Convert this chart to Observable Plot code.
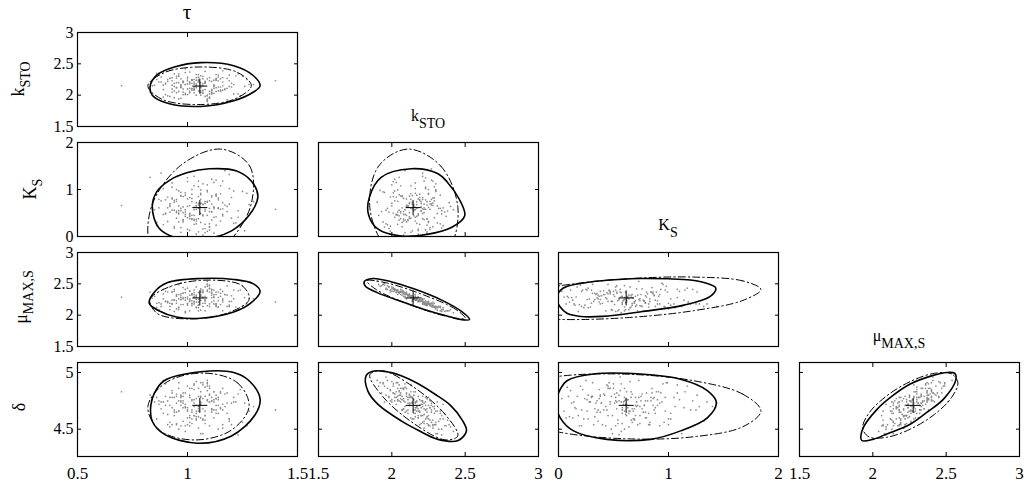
<!DOCTYPE html>
<html><head><meta charset="utf-8">
<script src="https://cdn.jsdelivr.net/npm/d3@7"></script>
<script src="https://cdn.jsdelivr.net/npm/@observablehq/plot@0.6"></script>
<style>
body{margin:0;background:#fff;}
#chart{position:relative;width:1032px;height:486px;overflow:hidden;background:#fff;}
</style></head><body><div id="chart"></div>
<script>
// ---- parameter names / labels ----
const names = ["tau","kSTO","KS","muMAX","delta"];
const labelMain = ["τ","k","K","μ","δ"];
const labelSub  = ["","STO","S","MAX,S",""];

// ---- axis domains and tick values ----
const domains = [[0.5,1.5],[1.5,3],[0,2],[1.5,3],[4.259,5.088]];
const tickValues = [[0.5,1,1.5],[1.5,2,2.5,3],[0,1,2],[1.5,2,2.5,3],[4.5,5]];

// ---- estimated parameter means (centre crosses) ----
const centre = [1.056, 2.145, 0.615, 2.275, 4.71];

// ---- Monte-Carlo samples ----
const tau = [1.06,0.98,1.13,0.95,1.02,1.10,0.89,1.16,1.04,0.99, 1.21,1.08,0.93,1.01,1.12,0.97,1.07,1.26,0.91,1.05, 1.14,0.96,1.03,1.09,0.86,1.18,1.00,1.11,0.94,1.06, 1.02,1.23,0.92,1.08,0.99,1.15,1.04,0.88,1.10,1.01, 0.97,1.13,1.06,0.84,1.19,1.03,0.95,1.09,1.00,1.28, 1.07,0.93,1.12,1.05,0.98,1.16,0.90,1.04,1.11,0.96, 1.20,1.02,0.94,1.08,1.14,0.99,1.06,0.87,1.17,1.03, 0.92,1.10,1.01,1.24,0.97,1.07,1.13,0.95,1.05,0.70, 1.09,0.98,1.15,1.02,0.90,1.11,1.04,1.19,0.96,1.06, 1.00,1.12,0.93,1.08,1.30,0.99,1.05,0.91,1.14,1.03, 1.07,0.94,1.10,1.17,0.97,1.02,0.85,1.09,1.22,1.04, 0.98,1.13,1.01,0.92,1.06,1.16,0.95,1.11,1.00,1.40, 1.08,0.89,1.03,1.15,0.96,1.07,1.20,0.93,1.05,1.12, 1.01,0.97,1.10,0.88,1.18,1.04,0.99,1.14,1.06,0.94, 1.25,1.02,0.91,1.09,1.00,1.13,0.96,1.07,0.86,1.11, 1.03,1.19,0.95,1.05,1.10,0.98,1.27,1.01,0.93,1.08, 1.15,0.90,1.04,1.12,0.97,1.06,0.83,1.16,1.02,1.09, 0.99,1.21,1.05,0.94,1.11,1.03,0.92,1.14,1.07,1.00, 1.13,0.96,1.08,1.18,0.89,1.04,1.10,0.98,1.23,1.06, 1.01,0.95,1.12,1.03,0.87,1.09,1.16,0.97,1.05,1.11];
const kSTO = [2.20,2.05,2.33,2.12,2.24,1.95,2.16,2.08,2.28,2.01, 2.17,2.22,2.10,2.37,2.03,2.15,2.26,2.14,1.99,2.21, 2.07,2.30,2.18,1.90,2.25,2.11,2.23,2.04,2.34,2.13, 2.19,2.02,2.27,2.09,2.42,2.06,2.16,2.29,1.97,2.21, 2.12,2.24,2.00,2.15,2.32,2.08,2.20,1.94,2.26,2.17, 2.05,2.28,2.14,2.22,2.10,2.39,2.01,2.18,2.07,2.31, 2.13,2.25,1.96,2.19,2.23,2.03,2.16,2.35,2.09,2.11, 2.27,2.06,2.21,1.99,2.17,2.30,2.12,2.04,2.24,2.15, 1.92,2.22,2.26,2.08,2.18,2.02,2.33,2.14,2.20,2.05, 2.29,2.11,2.23,1.98,2.17,2.36,2.07,2.25,2.13,2.21, 2.03,2.19,2.28,2.10,1.95,2.24,2.16,2.00,2.31,2.12, 2.22,2.06,2.18,2.40,2.04,2.15,2.27,2.09,2.01,2.23, 2.20,1.97,2.25,2.13,2.34,2.08,2.19,2.05,2.29,2.16, 2.11,2.26,2.02,2.21,1.93,2.24,2.17,2.32,2.07,2.14, 2.30,2.10,2.22,1.99,2.18,2.27,2.06,2.15,2.35,2.03, 2.09,2.23,2.12,2.28,1.96,2.20,2.25,2.04,2.16,2.38, 2.08,2.19,2.00,2.24,2.14,2.31,2.05,2.21,2.11,2.26, 2.17,2.02,2.33,2.07,2.22,2.13,1.98,2.29,2.18,2.10, 2.25,1.94,2.20,2.27,2.09,2.15,2.23,2.01,2.34,2.12, 2.06,2.30,2.16,2.04,2.21,1.91,2.28,2.13,2.24,2.08];
const KS = [0.62,0.35,0.88,0.51,0.74,0.20,1.02,0.47,0.66,0.93, 0.28,0.58,0.80,0.43,1.15,0.55,0.69,0.12,0.84,0.38, 0.61,0.97,0.45,0.73,0.30,0.64,1.25,0.52,0.18,0.79, 0.90,0.41,0.67,0.08,0.57,1.08,0.33,0.76,0.60,0.49, 0.86,0.24,0.71,0.63,1.32,0.37,0.54,0.95,0.15,0.68, 0.44,0.82,0.59,1.18,0.31,0.72,0.50,0.05,0.87,0.65, 0.39,1.00,0.56,0.26,0.78,0.47,0.92,0.61,1.40,0.34, 0.70,0.53,0.83,0.22,0.60,1.12,0.42,0.75,0.10,0.66, 0.98,0.36,0.58,0.81,0.48,1.22,0.27,0.69,0.55,0.89, 0.40,0.63,1.05,0.17,0.74,0.52,0.85,0.32,0.60,1.28, 0.46,0.77,0.21,0.67,0.94,0.38,0.57,1.10,0.29,0.72, 0.51,0.86,0.13,0.64,0.99,0.44,0.79,0.35,1.17,0.58, 0.70,0.25,0.62,0.91,0.48,0.03,0.83,0.56,1.06,0.41, 0.66,0.19,0.76,1.35,0.53,0.37,0.88,0.60,0.30,0.73, 0.96,0.45,0.61,0.11,0.80,1.20,0.50,0.68,0.23,0.84, 0.57,1.02,0.39,0.71,0.27,0.63,0.92,0.46,1.14,0.54, 0.33,0.78,0.65,0.07,0.87,0.49,1.26,0.59,0.36,0.75, 0.43,0.97,0.60,0.21,0.69,1.08,0.52,0.82,0.16,0.64, 0.90,0.31,0.74,1.44,0.47,0.58,0.14,0.85,0.55,0.70, 0.38,1.00,0.62,0.26,0.79,0.45,1.18,0.09,0.67,0.53];
const muMAX = [2.24,2.35,2.14,2.30,2.15,2.48,2.26,2.38,2.13,2.41, 2.26,2.19,2.37,2.07,2.40,2.25,2.19,2.28,2.37,2.25, 2.37,2.13,2.22,2.54,2.19,2.32,2.18,2.40,2.06,2.31, 2.23,2.39,2.19,2.30,2.04,2.41,2.25,2.14,2.47,2.22, 2.34,2.16,2.42,2.27,2.14,2.30,2.23,2.49,2.16,2.27, 2.36,2.18,2.23,2.21,2.35,2.07,2.38,2.29,2.32,2.12, 2.31,2.19,2.41,2.25,2.23,2.36,2.33,2.09,2.33,2.33, 2.14,2.37,2.26,2.40,2.25,2.14,2.33,2.33,2.21,2.29, 2.46,2.26,2.17,2.34,2.22,2.41,2.12,2.22,2.26,2.37, 2.19,2.30,2.18,2.45,2.26,2.06,2.36,2.22,2.28,2.18, 2.40,2.24,2.14,2.33,2.51,2.18,2.30,2.38,2.13,2.32, 2.17,2.37,2.24,2.09,2.37,2.26,2.19,2.28,2.43,2.21, 2.23,2.41,2.21,2.30,2.09,2.38,2.22,2.37,2.12,2.33, 2.32,2.17,2.42,2.18,2.47,2.21,2.24,2.13,2.40,2.25, 2.14,2.34,2.20,2.40,2.29,2.18,2.33,2.28,2.12,2.37, 2.36,2.16,2.31,2.16,2.43,2.28,2.18,2.39,2.24,2.07, 2.35,2.22,2.45,2.18,2.31,2.08,2.37,2.24,2.32,2.15, 2.28,2.40,2.07,2.38,2.21,2.28,2.45,2.13,2.29,2.26, 2.18,2.49,2.23,2.14,2.34,2.30,2.18,2.44,2.09,2.30, 2.38,2.10,2.28,2.40,2.20,2.49,2.21,2.28,2.16,2.35];
const delta = [4.72,4.75,4.64,4.81,4.55,4.88,4.64,4.86,4.58,4.82, 4.74,4.55,4.82,4.53,4.83,4.80,4.58,4.73,4.75,4.79, 4.76,4.66,4.62,4.93,4.78,4.64,4.67,4.75,4.62,4.60, 4.76,4.81,4.56,4.87,4.48,4.82,4.61,4.68,4.86,4.62, 4.71,4.77,4.74,4.76,4.57,4.85,4.55,4.90,4.69,4.66, 4.89,4.54,4.74,4.51,4.79,4.54,4.90,4.66,4.67,4.66, 4.73,4.59,4.96,4.66,4.71,4.72,4.73,4.72,4.70,4.73, 4.71,4.74,4.56,4.85,4.75,4.46,4.80,4.79,4.61,4.83, 4.91,4.57,4.69,4.75,4.79,4.75,4.59,4.59,4.75,4.83, 4.54,4.76,4.78,4.79,4.70,4.53,4.86,4.54,4.78,4.70, 4.91,4.65,4.53,4.81,4.74,4.65,4.74,4.76,4.74,4.71, 4.73,4.77,4.60,4.52,4.91,4.67,4.65,4.65,4.88,4.67, 4.62,4.93,4.62,4.83,4.50,4.77,4.54,4.84,4.70,4.67, 4.78,4.53,4.81,4.74,4.82,4.77,4.69,4.50,4.79,4.78, 4.56,4.86,4.63,4.84,4.60,4.67,4.86,4.59,4.59,4.78, 4.90,4.59,4.73,4.70,4.80,4.69,4.53,4.86,4.69,4.58, 4.68,4.71,4.92,4.60,4.78,4.46,4.80,4.72,4.67,4.75, 4.70,4.78,4.66,4.67,4.68,4.89,4.78,4.64,4.68,4.66, 4.71,4.91,4.62,4.73,4.74,4.64,4.74,4.82,4.45,4.78, 4.80,4.54,4.83,4.76,4.75,4.88,4.51,4.79,4.68,4.68];

// ---- confidence regions: solid = likelihood contour, dash = linearised ellipse ----
const solid_kSTO_tau = [[0.83,2.14],[0.84,2.0],[0.91,1.87],[1.06,1.82],[1.21,1.91],[1.30,2.05],[1.33,2.15],[1.30,2.31],[1.21,2.47],[1.06,2.52],[0.94,2.45],[0.86,2.32]];
const dash_kSTO_tau  = [[1.065,2.45],[1.228,2.362],[1.29,2.15],[1.214,1.938],[1.045,1.85],[0.882,1.938],[0.82,2.15],[0.896,2.362]];
const solid_KS_tau = [[0.84,0.62],[0.87,0.18],[0.95,-0.03],[1.08,-0.05],[1.20,0.12],[1.28,0.45],[1.32,0.85],[1.29,1.18],[1.22,1.40],[1.10,1.44],[1.0,1.36],[0.92,1.2],[0.86,0.95]];
const dash_KS_tau  = [[1.15,1.86],[1.283,1.497],[1.285,0.62],[1.155,-0.257],[0.97,-0.62],[0.837,-0.257],[0.835,0.62],[0.965,1.497]];
const solid_muMAX_tau = [[0.826,2.19],[0.87,2.07],[0.95,1.97],[1.06,1.95],[1.21,2.05],[1.29,2.20],[1.33,2.38],[1.30,2.50],[1.21,2.57],[1.06,2.585],[0.91,2.52],[0.85,2.37]];
const dash_muMAX_tau  = [[1.105,2.56],[1.249,2.469],[1.28,2.25],[1.179,2.031],[1.005,1.94],[0.861,2.031],[0.83,2.25],[0.931,2.469]];
const solid_delta_tau = [[0.833,4.706],[0.84,4.57],[0.894,4.456],[1.047,4.376],[1.20,4.44],[1.305,4.62],[1.33,4.765],[1.28,4.927],[1.21,5.0],[1.06,5.006],[0.894,4.927],[0.85,4.82]];
const dash_delta_tau  = [[1.07,4.995],[1.227,4.909],[1.28,4.70],[1.199,4.491],[1.03,4.405],[0.873,4.491],[0.82,4.70],[0.901,4.909]];
const solid_KS_kSTO = [[1.847,0.835],[1.84,0.48],[1.904,0.16],[2.064,0.01],[2.25,0.05],[2.406,0.19],[2.497,0.44],[2.452,0.835],[2.38,1.15],[2.315,1.336],[2.132,1.443],[1.927,1.26]];
const dash_KS_kSTO  = [[2.11,1.86],[2.334,1.497],[2.45,0.62],[2.39,-0.257],[2.19,-0.62],[1.966,-0.257],[1.85,0.62],[1.91,1.497]];
const solid_muMAX_kSTO = [[1.812,2.535],[1.87,2.585],[2.00,2.53],[2.15,2.42],[2.34,2.24],[2.475,2.06],[2.53,1.93],[2.47,1.93],[2.40,1.97],[2.25,2.07],[2.10,2.19],[1.90,2.36],[1.82,2.46]];
const dash_muMAX_kSTO  = [[2.50,1.95],[2.437,2.091],[2.215,2.325],[1.963,2.515],[1.83,2.55],[1.893,2.409],[2.115,2.175],[2.367,1.985]];
const solid_delta_kSTO = [[1.824,4.97],[1.836,4.838],[1.904,4.721],[2.064,4.573],[2.18,4.49],[2.315,4.41],[2.452,4.40],[2.509,4.485],[2.48,4.58],[2.40,4.71],[2.292,4.81],[2.18,4.90],[2.064,4.971],[1.95,5.01],[1.87,5.01]];
const dash_delta_kSTO  = [[2.45,4.44],[2.362,4.632],[2.15,4.87],[1.938,5.014],[1.85,4.98],[1.938,4.788],[2.15,4.55],[2.362,4.406]];
const solid_muMAX_KS = [[-0.02,2.27],[0.016,2.13],[0.077,2.03],[0.20,1.98],[0.40,1.98],[0.75,2.055],[1.14,2.16],[1.38,2.30],[1.43,2.43],[1.36,2.50],[1.2,2.56],[1.0,2.58],[0.75,2.585],[0.55,2.57],[0.29,2.53],[0.08,2.46],[0.02,2.40]];
const dash_muMAX_KS  = [[1.84,2.41],[1.677,2.546],[1.23,2.608],[0.62,2.58],[0.01,2.468],[-0.437,2.304],[-0.60,2.13],[-0.437,1.994],[0.01,1.932],[0.62,1.96],[1.23,2.072],[1.677,2.236]];
const solid_delta_KS = [[-0.02,4.73],[0.016,4.60],[0.137,4.485],[0.44,4.41],[0.836,4.41],[1.11,4.485],[1.353,4.60],[1.435,4.735],[1.353,4.84],[1.11,4.94],[0.745,4.986],[0.319,4.986],[0.077,4.927],[0.02,4.86]];
const dash_delta_KS  = [[1.84,4.66],[1.677,4.808],[1.23,4.927],[0.62,4.985],[0.01,4.967],[-0.437,4.878],[-0.60,4.74],[-0.437,4.592],[0.01,4.473],[0.62,4.415],[1.23,4.433],[1.677,4.522]];
const solid_delta_muMAX = [[1.925,4.40],[2.005,4.412],[2.10,4.46],[2.255,4.544],[2.37,4.65],[2.482,4.765],[2.565,4.93],[2.56,4.99],[2.505,5.0],[2.40,4.97],[2.255,4.898],[2.14,4.80],[2.03,4.677],[1.93,4.50]];
const dash_delta_muMAX  = [[2.58,4.91],[2.536,4.988],[2.418,4.992],[2.255,4.92],[2.093,4.792],[1.974,4.642],[1.93,4.51],[1.974,4.432],[2.093,4.428],[2.255,4.50],[2.418,4.628],[2.536,4.778]];

const regions = {
  "kSTO|tau": [solid_kSTO_tau, dash_kSTO_tau],
  "KS|tau": [solid_KS_tau, dash_KS_tau],
  "muMAX|tau": [solid_muMAX_tau, dash_muMAX_tau],
  "delta|tau": [solid_delta_tau, dash_delta_tau],
  "KS|kSTO": [solid_KS_kSTO, dash_KS_kSTO],
  "muMAX|kSTO": [solid_muMAX_kSTO, dash_muMAX_kSTO],
  "delta|kSTO": [solid_delta_kSTO, dash_delta_kSTO],
  "muMAX|KS": [solid_muMAX_KS, dash_muMAX_KS],
  "delta|KS": [solid_delta_KS, dash_delta_KS],
  "delta|muMAX": [solid_delta_muMAX, dash_delta_muMAX]
};

// ---- table built from the arrays ----
const samples = tau.map((t, i) => ({tau: t, kSTO: kSTO[i], KS: KS[i], muMAX: muMAX[i], delta: delta[i]}));

// ---- layout ----
const colLeft = [77, 318, 558, 799];
const rowTop = [32, 142, 252, 362];
const PW = 220, PH = 94;
const FONT = "'Liberation Serif','Times New Roman',serif";

const plusSymbol = {draw(ctx, size) { const r = Math.sqrt(size / Math.PI); ctx.moveTo(-r, 0); ctx.lineTo(r, 0); ctx.moveTo(0, -r); ctx.lineTo(0, r); }};
const blank = () => "";

const chart = document.getElementById("chart");

for (let r = 1; r <= 4; r++) {
  for (let c = 0; c < r; c++) {
    const xk = names[c], yk = names[r];
    const [solid, dash] = regions[`${yk}|${xk}`];
    const marks = [
      Plot.dot(samples, {x: xk, y: yk, r: 0.85, fill: "#8a8a8a", clip: true}),
      Plot.line(dash, {x: d => d[0], y: d => d[1], curve: "catmull-rom-closed", stroke: "black", strokeWidth: 1, strokeDasharray: "7,3,1.5,3", clip: true}),
      Plot.line(solid, {x: d => d[0], y: d => d[1], curve: "catmull-rom-closed", stroke: "black", strokeWidth: 1.6, clip: true}),
      Plot.dot([{x: centre[c], y: centre[r]}], {x: "x", y: "y", symbol: plusSymbol, r: 7.5, stroke: "black", fill: "none", strokeWidth: 1}),
      Plot.axisX({ticks: tickValues[c], anchor: "bottom", tickSize: -4, tickFormat: blank, label: null}),
      Plot.axisX({ticks: tickValues[c], anchor: "top", tickSize: -4, tickFormat: blank, label: null}),
      Plot.axisY({ticks: tickValues[r], anchor: "left", tickSize: -4, tickFormat: blank, label: null}),
      Plot.axisY({ticks: tickValues[r], anchor: "right", tickSize: -4, tickFormat: blank, label: null}),
      Plot.frame({stroke: "black", strokeWidth: 1.2})
    ];
    if (r === 4) marks.push(Plot.axisX({ticks: tickValues[c], anchor: "bottom", tickSize: 0, tickPadding: 10, fontSize: 17, label: null, tickFormat: d => String(d)}));
    if (c === 0) marks.push(Plot.axisY({ticks: tickValues[r], anchor: "left", tickSize: 0, tickPadding: 4, fontSize: 16, label: null, tickFormat: d => String(d)}));
    const svg = Plot.plot({
      width: PW, height: PH,
      marginTop: 0, marginRight: 0, marginBottom: 0, marginLeft: 0,
      x: {domain: domains[c]},
      y: {domain: domains[r]},
      style: {background: "transparent", overflow: "visible", fontFamily: FONT, fontSize: "16px", color: "black"},
      marks
    });
    svg.style.position = "absolute";
    svg.style.left = colLeft[c] + "px";
    svg.style.top = rowTop[r - 1] + "px";
    chart.appendChild(svg);
  }
}

// ---- titles and y labels (text with subscripts) ----
const ov = d3.select(chart).append("svg")
  .attr("width", 1032).attr("height", 486)
  .style("position", "absolute").style("left", "0px").style("top", "0px").style("overflow", "visible");

function label(x, y, main, sub, rotate, size, subSize, drop) {
  const t = ov.append("text")
    .attr("transform", `translate(${x},${y})` + (rotate ? " rotate(-90)" : ""))
    .attr("text-anchor", "middle")
    .attr("font-family", FONT)
    .attr("font-size", size)
    .attr("fill", "black");
  t.append("tspan").text(main);
  if (sub) t.append("tspan").attr("font-size", subSize).attr("dy", drop).text(sub);
}

// titles above diagonal panels
const titleX = [187, 428, 668, 899];
const titleY = [19, 121, 230, 341];
const titleSize = [21, 16, 16, 16];
for (let i = 0; i < 4; i++) label(titleX[i], titleY[i], labelMain[i], labelSub[i], false, titleSize[i], 14, 7);

// y-axis labels (rotated)
const ylabX = [24, 36, 27, 25];
const ylabY = [79, 189, 297, 407];
for (let i = 1; i <= 4; i++) label(ylabX[i - 1], ylabY[i - 1], labelMain[i], labelSub[i], true, 18, 14, 6);
</script>
</body></html>
